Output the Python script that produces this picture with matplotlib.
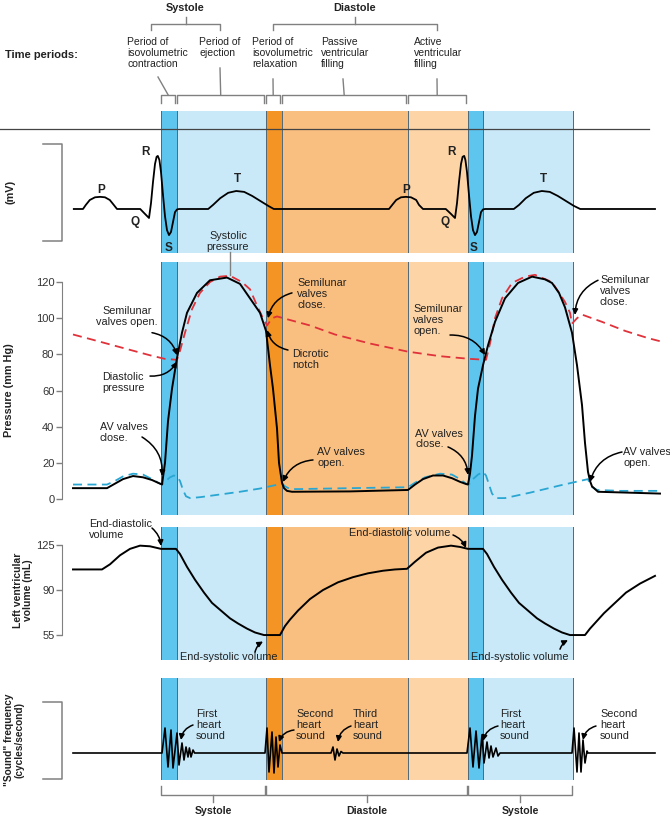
import matplotlib
matplotlib.use("Agg")
import matplotlib.pyplot as plt

plt.rcParams['font.family'] = ['Liberation Sans', 'DejaVu Sans']

# time in ms, 0 = start of isovolumetric contraction
phase_edges = [0, 40, 262.5, 302.5, 617.5, 767.5, 805, 1030]
phase_colors = ['#5ec5ef', '#c9e9f9', '#f39424', '#f9bf80', '#fdd4a6', '#5ec5ef', '#c9e9f9']

# ECG (mV)
ecg_t = [-218, -195, -188, -178, -165, -152, -140, -128, -118, -110,
         -52, -40, -30, -25, -20, -15, -11, -8, -4, 0, 5, 10, 15, 20, 25, 30, 35, 40, 45,
         118, 130, 148, 168, 188, 208, 228, 248, 268, 282,
         570, 578, 588, 600, 612, 625, 638, 645, 655,
         712, 725, 735, 740, 745, 750, 754, 758, 761, 765, 770, 775, 780, 785, 790, 795, 800, 805, 810,
         882, 895, 912, 932, 952, 972, 992, 1012, 1032, 1048, 1235]
ecg_mv = [0, 0, 0.09, 0.2, 0.26, 0.27, 0.26, 0.2, 0.09, 0,
          0, -0.11, -0.2, 0.13, 0.6, 1.0, 1.16, 1.18, 1.09, 0.82, 0.31, -0.16, -0.47, -0.58, -0.51, -0.29, -0.07, -0.01, 0,
          0, 0.09, 0.24, 0.36, 0.4, 0.38, 0.29, 0.18, 0.07, 0,
          0, 0.09, 0.2, 0.26, 0.27, 0.26, 0.2, 0.09, 0,
          0, -0.11, -0.2, 0.13, 0.6, 1.0, 1.16, 1.18, 1.09, 0.82, 0.31, -0.16, -0.47, -0.58, -0.51, -0.29, -0.07, -0.01, 0,
          0, 0.09, 0.24, 0.36, 0.4, 0.38, 0.29, 0.18, 0.07, 0, 0]

# left ventricular pressure (mm Hg)
lv_t = [-220, -135, -115, -95, -70, -45, -22.5, -7.5,
        2.5, 10, 17.5, 27.5, 40, 52.5, 65, 90, 122.5, 165,
        197.5, 222.5, 247.5, 262.5, 272.5, 280, 290, 295, 302.5, 307.5, 315, 327.5,
        472.5, 617.5,
        635, 655, 680, 705, 727.5, 747.5, 762.5,
        767.5, 772.5, 777.5, 785, 792.5, 805, 817.5, 835, 860, 892.5, 927.5,
        960, 977.5, 995, 1010, 1027.5, 1040, 1052.5, 1060, 1067.5, 1072.5, 1077.5, 1092.5, 1247.5]
lv_p = [6, 6, 8.5, 11, 12.7, 12, 10.5, 9,
        8, 20, 43, 61, 78, 92, 103, 114, 121, 122.5,
        119, 111, 103, 93, 74, 61, 39, 20, 9, 6, 4.5, 4,
        4.2, 5,
        8, 11, 13, 13, 11.5, 9.5, 8.3,
        8, 14, 24, 46, 61, 74, 85, 98, 111, 119.5, 123,
        121.5, 119.5, 114, 106, 92, 74, 52, 31, 15, 10, 7, 4, 3]

# aortic pressure (mm Hg)
ao_t = [-220, -177.5, -127.5, -77.5, -27.5, 10, 40,
        47.5, 60, 77.5, 97.5, 122.5, 147.5, 172.5,
        202.5, 222.5, 240, 255, 265, 277.5, 290, 322.5, 372.5, 435, 522.5, 617.5, 697.5, 772.5, 812.5,
        822.5, 835, 852.5, 877.5, 910, 935, 977.5, 1010, 1022.5, 1027.5, 1040, 1052.5, 1102.5, 1160, 1217.5, 1252.5]
ao_p = [91, 88.5, 85.5, 82.5, 79.5, 77.5, 77,
        82, 92, 105, 114, 120, 123, 123.5,
        120, 116, 107, 100, 96, 100, 101, 99, 96, 91, 86, 81.5, 79, 77.5, 77,
        86, 100, 111, 119.5, 123, 124, 120, 109, 103, 97, 100, 102, 98, 93, 89, 87]

# left atrial pressure (mm Hg)
la_t = [-220, -135, -115, -95, -70, -45, -22.5, -7.5,
        2.5, 12.5, 22.5, 32.5, 40, 47.5, 55, 62.5, 72.5, 97.5,
        147.5, 197.5, 247.5, 302.5, 310, 322.5, 347.5, 472.5, 617.5,
        635, 660, 697.5, 727.5, 747.5, 762.5,
        770, 780, 792.5, 805, 812.5, 820, 827.5, 837.5, 860, 922.5, 997.5, 1067.5,
        1075, 1090, 1147.5, 1247.5]
la_p = [8, 8, 10, 12.5, 14, 13.5, 11, 9,
        8, 10, 12, 13, 12.5, 10, 5, 1.5, 0.5, 1,
        2.5, 4, 5.8, 8.5, 7, 5.5, 5.5, 6, 6.5,
        9, 12, 14, 13.5, 11, 8.5,
        8, 11, 13.5, 15, 13, 8, 3, 0.5, 0.5, 3.5, 7.5, 11,
        7, 5, 4.5, 4.5]

# left ventricular volume (mL)
vol_t = [-220, -147.5, -127.5, -102.5, -77.5, -52.5, -27.5, 0,
         37.5, 47.5, 65, 85, 107.5, 127.5, 150, 172.5, 192.5, 215, 235, 257.5,
         297.5, 310, 322.5, 342.5, 372.5, 405, 442.5, 480, 517.5, 555, 585, 615,
         635, 662.5, 692.5, 725, 747.5, 767.5,
         805, 815, 832.5, 852.5, 875, 895, 917.5, 940, 960, 982.5, 1002.5, 1022.5,
         1060, 1072.5, 1090, 1107.5, 1135, 1162.5, 1197.5, 1235]
vol_ml = [106, 106, 110, 117, 122, 124.5, 124, 122,
          122, 118, 108, 98, 88, 80, 74, 68, 64, 60, 57, 55,
          55, 62, 67, 74, 83, 90, 96, 100, 103, 105, 106, 106.5,
          112, 119, 123, 124.5, 123.5, 122,
          122, 118, 108, 98, 88, 80, 74, 68, 64, 60, 57, 55,
          55, 60, 66, 72, 80, 88, 95, 101]

# heart sounds (relative amplitude)
snd_t = [-220,
         2.5, 10, 17.5, 25, 30, 40, 45, 52.5, 57.5, 62.5, 67.5, 71, 75, 80, 84,
         260, 265, 270, 277.5, 282.5, 287.5, 292.5, 297.5, 302.5,
         425, 430, 435, 440, 445, 450, 455,
         765, 772.5, 780, 787.5, 795, 802.5, 807.5, 815, 820, 825, 830, 837.5, 842.5, 847.5,
         1027.5, 1032.5, 1040, 1045, 1050, 1055, 1060, 1065, 1067.5,
         1235]
snd_a = [0,
         0, 2.5, -1.4, 2.3, -1.5, 2.0, -1.2, 1.0, -0.7, 0.6, -0.4, 0.5, -0.4, 0.3, 0,
         0, 2.5, -1.9, 2.1, -2.0, 1.6, -1.4, 0.8, 0,
         0, 0.6, -0.7, 0.4, -0.3, 0.15, 0,
         0, 2.5, -1.4, 2.2, -1.5, 1.8, -1.0, 1.1, -0.5, 0.7, -0.4, 0.5, -0.3, 0,
         0, 2.5, -1.9, 2.0, -1.9, 1.3, -1.0, 0.2, 0,
         0]

p_ticks = [0, 20, 40, 60, 80, 100, 120]
v_ticks = [55, 90, 125]

T_MIN, T_MAX = -402.5, 1272.5
H = 817.0
TXT = '#222222'
GREY = '#808080'

fig = plt.figure(figsize=(6.7, 8.17), dpi=100)


def panel(top, bottom, ylim):
    ax = fig.add_axes([0, 1 - bottom / H, 1, (bottom - top) / H])
    ax.set_xlim(T_MIN, T_MAX)
    ax.set_ylim(*ylim)
    for s in ax.spines.values():
        s.set_visible(False)
    ax.set_xticks([])
    ax.set_yticks([])
    ax.patch.set_visible(False)
    for i, c in enumerate(phase_colors):
        ax.axvspan(phase_edges[i], phase_edges[i + 1], color=c, lw=0, zorder=0)
    for e in phase_edges:
        ax.axvline(e, color='#4f6878', lw=0.7, zorder=1)
    return ax


def arrow(ax, tail, tip, rad):
    ax.annotate('', xy=tip, xytext=tail,
                arrowprops=dict(arrowstyle='-|>', color='black', lw=1.1, mutation_scale=8,
                                shrinkA=0, shrinkB=0, connectionstyle='arc3,rad=%s' % rad))


def label(ax, x, y, s, ha='left', size=7.8, **kw):
    ax.text(x, y, s, ha=ha, va='center', fontsize=size, color=TXT, linespacing=1.12, **kw)


def axis_bracket(ax, top, bottom):
    ax.plot([-295, -247.5, -247.5, -295], [top, top, bottom, bottom], color=GREY, lw=1.1, clip_on=False)


def value_axis(ax, lo, hi, ticks):
    sp = ax.spines['left']
    sp.set_visible(True)
    sp.set_position(('data', -247.5))
    sp.set_bounds(lo, hi)
    sp.set_color(GREY)
    ax.set_yticks(ticks)
    ax.tick_params(axis='y', direction='out', length=4, width=1, color=GREY, labelsize=8,
                   labelcolor='#333333', pad=1.5)


# ---------------- ECG ----------------
ax_e = panel(111, 253, (-0.978, 2.178))
ax_e.plot(ecg_t, ecg_mv, color='black', lw=1.3, zorder=3, solid_joinstyle='round')
axis_bracket(ax_e, 1.44, -0.71)
ax_e.text(-375, 0.38, '(mV)', rotation=90, ha='center', va='center', fontsize=7.8, fontweight='bold', color=TXT)
for name, t, v in [('P', -150, 0.42), ('R', -40, 1.27), ('Q', -65, -0.29), ('S', 20, -0.87), ('T', 190, 0.67),
                   ('P', 612, 0.42), ('R', 727, 1.27), ('Q', 710, -0.29), ('S', 782, -0.87), ('T', 955, 0.67)]:
    ax_e.text(t, v, name, ha='center', va='center', fontsize=8.5, fontweight='bold', color=TXT, zorder=4)

# ---------------- Pressure ----------------
ax_p = panel(262, 515, (-8.85, 131.1))
ax_p.plot(ao_t, ao_p, color='#e0323a', lw=1.3, dashes=(5, 3), zorder=3)
ax_p.plot(la_t, la_p, color='#2aa6d2', lw=1.3, dashes=(5, 3), zorder=3)
ax_p.plot(lv_t, lv_p, color='black', lw=1.4, zorder=4)
value_axis(ax_p, 0, 120, p_ticks)
ax_p.text(-380, 60, 'Pressure (mm Hg)', rotation=90, ha='center', va='center', fontsize=7.8,
          fontweight='bold', color=TXT)

label(ax_p, 167.5, 142.4, 'Systolic\npressure', ha='center')
ax_p.plot([172.5, 172.5], [136.6, 124], color=GREY, lw=1, clip_on=False)
label(ax_p, -85, 101, 'Semilunar\nvalves open.', ha='center')
arrow(ax_p, (-22.5, 92), (40, 79.5), -0.3)
label(ax_p, -147.5, 64.2, 'Diastolic\npressure')
arrow(ax_p, (-27.5, 68), (40, 76), 0.3)
label(ax_p, -152.5, 36.8, 'AV valves\nclose.')
arrow(ax_p, (-47.5, 34.3), (2.5, 12.7), -0.3)
label(ax_p, 340, 113.4, 'Semilunar\nvalves\nclose.')
arrow(ax_p, (327.5, 114), (267.5, 100), 0.3)
label(ax_p, 327.5, 77.4, 'Dicrotic\nnotch')
arrow(ax_p, (317.5, 82.4), (265, 93.5), -0.3)
label(ax_p, 390, 22.7, 'AV valves\nopen.')
arrow(ax_p, (380, 21.6), (305, 9.4), 0.3)
label(ax_p, 630, 99, 'Semilunar\nvalves\nopen.')
arrow(ax_p, (722.5, 90.7), (810, 79.6), -0.3)
label(ax_p, 635, 33.2, 'AV valves\nclose.')
arrow(ax_p, (717.5, 28.8), (767.5, 13.3), -0.3)
label(ax_p, 1097.5, 115, 'Semilunar\nvalves\nclose.')
arrow(ax_p, (1092.5, 121), (1035, 101.8), 0.3)
label(ax_p, 1155, 22.7, 'AV valves\nopen.')
arrow(ax_p, (1152.5, 26), (1072.5, 9.4), 0.3)

# ---------------- Volume ----------------
ax_v = panel(527, 660, (35.6, 139.0))
ax_v.plot(vol_t, vol_ml, color='black', lw=1.4, zorder=3)
value_axis(ax_v, 55, 125, v_ticks)
ax_v.text(-345, 90, 'Left ventricular\nvolume (mL)', rotation=90, ha='center', va='center', fontsize=7.5,
          fontweight='bold', color=TXT, linespacing=1.1)
label(ax_v, -180, 137.4, 'End-diastolic\nvolume')
arrow(ax_v, (-22.5, 138.2), (0, 124.2), -0.2)
label(ax_v, 597.5, 134.3, 'End-diastolic volume', ha='center')
arrow(ax_v, (730, 132.8), (762.5, 122.7), -0.2)
label(ax_v, 170, 37.9, 'End-systolic volume', ha='center')
arrow(ax_v, (235, 41.8), (255, 50), -0.2)
label(ax_v, 897.5, 37.9, 'End-systolic volume', ha='center')
arrow(ax_v, (997.5, 44), (1017.5, 51), -0.2)

# ---------------- Heart sounds ----------------
ax_s = panel(678, 780, (-2.7, 7.5))
ax_s.plot(snd_t, snd_a, color='black', lw=1.2, zorder=3)
axis_bracket(ax_s, 5.1, -2.6)
ax_s.text(-367.5, 1.3, '"Sound" frequency\n(cycles/second)', rotation=90, ha='center', va='center',
          fontsize=7.3, fontweight='bold', color=TXT, linespacing=1.1)
for t, s, tail, tip in [(87.5, 'First\nheart\nsound', (80, 2.8), (50, 1.3)),
                        (337.5, 'Second\nheart\nsound', (332.5, 2.3), (295, 1.1)),
                        (480, 'Third\nheart\nsound', (475, 2.7), (442.5, 1.1)),
                        (847.5, 'First\nheart\nsound', (842.5, 2.7), (805, 1.2)),
                        (1097.5, 'Second\nheart\nsound', (1087.5, 2.7), (1055, 1.3))]:
    label(ax_s, t, 2.8, s)
    arrow(ax_s, tail, tip, 0.3)

# ---------------- header / footer ----------------
ax_o = fig.add_axes([0, 0, 1, 1])
ax_o.set_xlim(T_MIN, T_MAX)
ax_o.set_ylim(H, 0)
ax_o.axis('off')
ax_o.plot([T_MIN, 1220], [128.5, 128.5], color='#444444', lw=0.9)

ax_o.text(-390, 55, 'Time periods:', ha='left', va='center', fontsize=8, fontweight='bold', color=TXT)
for a, b, name in [(-25, 147.5, 'Systole'), (280, 690, 'Diastole')]:
    m = (a + b) / 2
    ax_o.plot([a, a, b, b], [30, 24, 24, 30], color=GREY, lw=1)
    ax_o.plot([m, m], [24, 17], color=GREY, lw=1)
    ax_o.text(m, 8, name, ha='center', va='center', fontsize=7.8, fontweight='bold', color=TXT)

period_names = ['Period of\nisovolumetric\ncontraction', 'Period of\nejection',
                'Period of\nisovolumetric\nrelaxation', 'Passive\nventricular\nfilling',
                'Active\nventricular\nfilling']
name_x = [-85, 95, 227.5, 400, 632.5]
leader_from = [(-7.5, 77), (147.5, 68), (280, 79), (455, 79), (690, 79)]
for i in range(5):
    a, b = phase_edges[i] + 1, phase_edges[i + 1] - 5
    m = (a + b) / 2
    ax_o.plot([a, a, b, b], [103, 95, 95, 103], color=GREY, lw=1)
    ax_o.plot([leader_from[i][0], m], [leader_from[i][1], 95], color=GREY, lw=1)
    ax_o.text(name_x[i], 37, period_names[i], ha='left', va='top', fontsize=7.5, color=TXT, linespacing=1.15)

for a, b, name in [(0, 262.5, 'Systole'), (262.5, 767.5, 'Diastole'), (767.5, 1030, 'Systole')]:
    a, b = a + 1, b - 3
    m = (a + b) / 2
    ax_o.plot([a, a, b, b], [786, 795, 795, 786], color=GREY, lw=1)
    ax_o.plot([m, m], [795, 802], color=GREY, lw=1)
    ax_o.text(m, 811, name, ha='center', va='center', fontsize=7.6, fontweight='bold', color=TXT)

fig.savefig('out.png', dpi=100)
